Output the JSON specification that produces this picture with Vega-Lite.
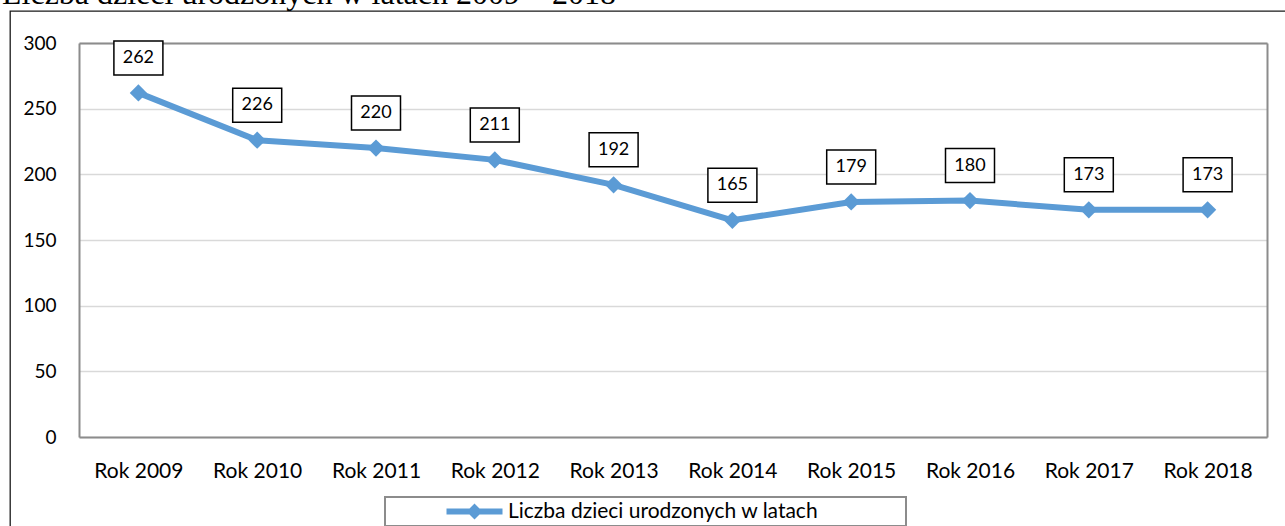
{
  "$schema": "https://vega.github.io/schema/vega-lite/v6.json",
  "width": 1280,
  "height": 520,
  "autosize": {"type": "none"},
  "padding": {"left": 10, "top": 11, "right": -5, "bottom": -5},
  "background": "white",
  "title": {
    "text": "Liczba dzieci urodzonych w latach 2009 – 2018",
    "anchor": "start",
    "frame": "group",
    "orient": "top",
    "offset": -25,
    "baseline": "alphabetic",
    "dx": -8,
    "font": "Liberation Serif",
    "fontSize": 32,
    "fontWeight": "normal",
    "color": "#000000"
  },
  "config": {
    "view": {"stroke": "#1a1a1a", "strokeWidth": 1.3},
    "axis": {
      "ticks": false,
      "tickSize": 0,
      "domainColor": "#8c8c8c",
      "domainWidth": 2,
      "labelFont": "Lato",
      "labelColor": "#000000",
      "title": null
    }
  },
  "data": {
    "values": [
      {"rok": "Rok 2009", "liczba": 262},
      {"rok": "Rok 2010", "liczba": 226},
      {"rok": "Rok 2011", "liczba": 220},
      {"rok": "Rok 2012", "liczba": 211},
      {"rok": "Rok 2013", "liczba": 192},
      {"rok": "Rok 2014", "liczba": 165},
      {"rok": "Rok 2015", "liczba": 179},
      {"rok": "Rok 2016", "liczba": 180},
      {"rok": "Rok 2017", "liczba": 173},
      {"rok": "Rok 2018", "liczba": 173}
    ]
  },
  "resolve": {"axis": {"x": "independent", "y": "independent"}},
  "layer": [
    {
      "mark": {"type": "line", "color": "#5B9BD5", "strokeWidth": 6, "strokeJoin": "round"},
      "encoding": {
        "x": {
          "field": "rok", "type": "nominal", "sort": null,
          "scale": {"type": "point", "range": [69, 1257], "padding": 0.5},
          "axis": {"orient": "bottom", "offset": -94, "labelPadding": 40, "labelBaseline": "alphabetic", "labelFontSize": 21, "labelAngle": 0, "grid": false}
        },
        "y": {
          "field": "liczba", "type": "quantitative",
          "scale": {"domain": [0, 300], "range": [426, 32], "nice": false, "zero": true},
          "axis": {"orient": "left", "offset": -69, "values": [0, 50, 100, 150, 200, 250, 300], "labelPadding": 23, "labelFontSize": 19, "grid": true, "gridColor": "#d9d9d9", "gridWidth": 1.5}
        }
      }
    },
    {
      "mark": {"type": "point", "shape": "diamond", "filled": true, "size": 300, "opacity": 1},
      "encoding": {
        "x": {"field": "rok", "type": "nominal", "sort": null,
              "axis": {"orient": "top", "offset": -32, "labels": false, "grid": false}},
        "y": {"field": "liczba", "type": "quantitative",
              "axis": {"orient": "right", "offset": -23, "labels": false, "grid": false}},
        "color": {
          "datum": "Liczba dzieci urodzonych w latach", "type": "nominal",
          "scale": {"range": ["#5B9BD5"]},
          "legend": {
            "orient": "none", "legendX": 375, "legendY": 486,
            "direction": "horizontal", "title": null,
            "strokeColor": "#8c8c8c", "fillColor": "white",
            "padding": 4,
            "symbolType": "M-1,0M4.7,-0.3L10.3,-0.3L10.3,0.3L4.7,0.3ZM6.7,0L7.5,-0.8L8.3,0L7.5,0.8ZM50.2,0",
            "symbolSize": 400,
            "symbolFillColor": "#5B9BD5",
            "symbolStrokeWidth": 0,
            "symbolOpacity": 1,
            "labelFont": "Lato", "labelFontSize": 21, "labelColor": "#000000",
            "labelOffset": 98, "labelLimit": 0,
            "encode": {"legend": {"update": {"strokeWidth": {"value": 2}}}}
          }
        }
      }
    },
    {
      "mark": {"type": "point", "shape": "M-1,-0.694L1,-0.694L1,0.694L-1,0.694Z", "filled": true, "fill": "white", "stroke": "#000000", "strokeWidth": 1.5, "size": 2401, "opacity": 1, "yOffset": -35},
      "encoding": {
        "x": {"field": "rok", "type": "nominal", "sort": null, "axis": null},
        "y": {"field": "liczba", "type": "quantitative", "axis": null}
      }
    },
    {
      "mark": {"type": "text", "font": "Lato", "fontSize": 18, "color": "#000000", "baseline": "middle", "align": "center", "yOffset": -35},
      "encoding": {
        "x": {"field": "rok", "type": "nominal", "sort": null, "axis": null},
        "y": {"field": "liczba", "type": "quantitative", "axis": null},
        "text": {"field": "liczba", "type": "quantitative"}
      }
    }
  ]
}
